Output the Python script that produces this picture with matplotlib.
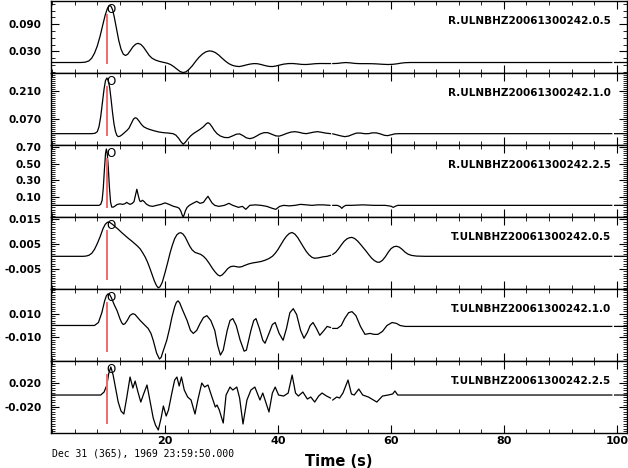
import matplotlib
matplotlib.use('Agg')
import matplotlib.pyplot as plt
from matplotlib.ticker import MultipleLocator, FixedLocator, NullFormatter

NAN = float('nan')

# ---------------- data (time s, amplitude) ----------------
names = ["R.ULNBHZ20061300242.0.5", "R.ULNBHZ20061300242.1.0", "R.ULNBHZ20061300242.2.5",
         "T.ULNBHZ20061300242.0.5", "T.ULNBHZ20061300242.1.0", "T.ULNBHZ20061300242.2.5"]

r05 = [(0, 0.0056), (5.0, 0.0056), (5.8, 0.0062), (6.5, 0.0090), (7.0, 0.0150), (7.5, 0.0260),
       (8.0, 0.0420), (8.5, 0.0640), (9.0, 0.0900), (9.4, 0.1100), (9.8, 0.1250), (10.1, 0.1310),
       (10.4, 0.1300), (10.7, 0.1220), (11.0, 0.1060), (11.4, 0.0800), (11.8, 0.0540), (12.2, 0.0350),
       (12.6, 0.0240), (13.0, 0.0210), (13.4, 0.0240), (13.8, 0.0310), (14.3, 0.0400), (14.8, 0.0460),
       (15.2, 0.0478), (15.7, 0.0455), (16.2, 0.0390), (16.7, 0.0300), (17.2, 0.0210), (17.7, 0.0150),
       (18.3, 0.0110), (19.0, 0.0080), (19.7, 0.0060), (20.4, 0.0040), (21.0, 0.0010), (21.6, -0.0040),
       (22.2, -0.0100), (22.7, -0.0145), (23.2, -0.0165), (23.7, -0.0150), (24.2, -0.0100), (24.8, -0.0020),
       (25.4, 0.0080), (26.0, 0.0170), (26.6, 0.0240), (27.2, 0.0290), (27.8, 0.0311), (28.3, 0.0305),
       (28.9, 0.0275), (29.5, 0.0220), (30.1, 0.0150), (30.7, 0.0085), (31.3, 0.0030), (31.9, -0.0005),
       (32.5, -0.0025), (33.1, -0.0033), (33.7, -0.0020), (34.3, 0.0000), (35.0, 0.0020), (35.7, 0.0032),
       (36.3, 0.0030), (37.0, 0.0012), (37.7, -0.0012), (38.4, -0.0030), (39.0, -0.0033), (39.6, -0.0022),
       (40.3, 0.0000), (41.0, 0.0020), (41.8, 0.0032), (42.6, 0.0034), (43.4, 0.0025), (44.2, 0.0014),
       (45.0, 0.0012), (45.8, 0.0020), (46.6, 0.0030), (47.5, 0.0034), (48.5, 0.0033), (49.3, 0.0033),
       (49.5, NAN), (49.7, 0.0033), (50.5, 0.0036), (51.3, 0.0048), (52.0, 0.0055), (52.8, 0.0048),
       (53.6, 0.0036), (54.5, 0.0031), (55.5, 0.0031), (56.5, 0.0030), (57.5, 0.0025), (58.5, 0.0017),
       (59.5, 0.0012), (60.3, 0.0016), (61.0, 0.0026), (61.8, 0.0042), (62.5, 0.0052), (63.5, 0.0056),
       (99.1, 0.0056), (99.35, NAN), (99.6, 0.0056), (101.8, 0.0056)]

r10 = [(0, -0.005), (7.0, -0.005), (7.6, -0.003), (8.0, 0.005), (8.3, 0.030), (8.6, 0.080), (8.9, 0.150),
       (9.2, 0.220), (9.45, 0.262), (9.7, 0.275), (9.95, 0.262), (10.2, 0.225), (10.45, 0.165), (10.7, 0.100),
       (10.95, 0.045), (11.2, 0.008), (11.45, -0.013), (11.7, -0.020), (12.0, -0.018), (12.4, -0.010),
       (12.8, 0.000), (13.2, 0.010), (13.6, 0.022), (14.0, 0.045), (14.4, 0.068), (14.7, 0.075),
       (15.0, 0.072), (15.4, 0.058), (15.8, 0.042), (16.2, 0.030), (16.8, 0.021), (17.4, 0.015),
       (18.0, 0.010), (18.8, 0.004), (19.7, 0.000), (20.6, -0.002), (21.4, -0.005), (21.9, -0.012),
       (22.4, -0.028), (22.8, -0.045), (23.2, -0.058), (23.6, -0.048), (24.0, -0.033), (24.5, -0.017),
       (25.0, -0.005), (25.6, 0.006), (26.2, 0.017), (26.8, 0.030), (27.3, 0.045), (27.6, 0.050),
       (27.9, 0.045), (28.3, 0.030), (28.7, 0.012), (29.2, -0.005), (29.8, -0.017), (30.5, -0.024),
       (31.2, -0.025), (31.9, -0.017), (32.6, -0.008), (33.2, -0.006), (33.8, -0.015), (34.4, -0.026),
       (35.0, -0.030), (35.6, -0.026), (36.2, -0.017), (36.8, -0.007), (37.5, 0.000), (38.2, 0.000),
       (38.9, -0.008), (39.6, -0.016), (40.2, -0.0175), (40.9, -0.011), (41.6, -0.003), (42.3, 0.003),
       (43.0, 0.005), (43.7, 0.002), (44.4, -0.003), (45.0, -0.005), (45.7, -0.001), (46.4, 0.003),
       (47.0, 0.005), (47.7, 0.002), (48.4, -0.002), (49.3, -0.005), (49.5, NAN), (49.7, -0.006),
       (50.4, -0.011), (51.1, -0.016), (51.8, -0.020), (52.5, -0.017), (53.2, -0.009), (53.9, -0.002),
       (54.6, -0.002), (55.3, -0.005), (56.0, -0.005), (56.7, -0.001), (57.4, -0.001), (58.1, -0.006),
       (58.8, -0.013), (59.4, -0.015), (60.0, -0.011), (60.7, -0.006), (61.5, -0.005), (99.1, -0.005),
       (99.35, NAN), (99.6, -0.005), (101.8, -0.005)]

r25 = [(0, 0), (8.3, 0), (8.6, 0.012), (8.85, 0.060), (9.05, 0.200), (9.25, 0.420), (9.45, 0.620),
       (9.6, 0.678), (9.75, 0.630), (9.95, 0.450), (10.15, 0.210), (10.35, 0.040), (10.55, -0.020),
       (10.8, -0.022), (11.1, -0.010), (11.5, 0.010), (12.0, 0.018), (12.5, 0.012), (12.9, 0.020),
       (13.2, 0.036), (13.5, 0.022), (13.8, 0.012), (14.2, 0.024), (14.5, 0.045), (14.75, 0.120),
       (15.0, 0.194), (15.25, 0.120), (15.5, 0.055), (15.7, 0.045), (16.0, 0.061), (16.3, 0.045),
       (16.7, 0.015), (17.2, -0.005), (17.8, -0.012), (18.5, 0), (19.3, 0.012), (20.0, 0.030),
       (20.7, 0.012), (21.5, -0.012), (22.1, -0.022), (22.5, -0.035), (22.8, -0.070), (23.0, -0.110),
       (23.2, -0.140), (23.4, -0.110), (23.6, -0.065), (23.9, -0.025), (24.3, 0.000), (24.8, 0.020),
       (25.6, 0.048), (26.2, 0.024), (26.8, 0.036), (27.2, 0.075), (27.6, 0.109), (27.9, 0.075),
       (28.3, 0.030), (28.8, 0), (29.5, -0.012), (30.5, 0), (31.3, 0.024), (32.0, 0), (33.0, -0.024),
       (33.7, -0.012), (34.3, -0.048), (35.0, 0), (36.0, 0.006), (37.0, 0), (38.0, -0.012),
       (39.0, -0.036), (39.6, -0.048), (40.3, -0.012), (41.0, 0), (42.0, -0.006), (43.0, 0), (44.0, 0.012),
       (45.0, 0.006), (46.0, 0), (47.0, 0.006), (48.0, 0.006), (49.2, 0), (49.45, NAN), (49.7, 0),
       (50.5, 0), (51.0, -0.015), (51.3, -0.036), (51.6, -0.015), (52.0, 0), (53.0, 0), (55.0, 0.006),
       (57.0, 0), (59.0, 0), (60.0, -0.010), (60.4, -0.024), (60.8, -0.010), (61.2, 0), (62.0, 0),
       (99.1, 0), (99.35, NAN), (99.6, 0), (101.8, 0)]

t05 = [(0, 0), (5.5, 0), (6.0, 0.0001), (6.5, 0.0004), (7.0, 0.0012), (7.5, 0.0028), (8.0, 0.0052),
       (8.5, 0.0080), (9.0, 0.0112), (9.4, 0.0130), (9.8, 0.0139), (10.2, 0.0138), (10.7, 0.0130),
       (11.2, 0.0120), (11.8, 0.0108), (12.3, 0.0097), (12.9, 0.0085), (13.5, 0.0073), (14.1, 0.0062),
       (14.6, 0.0052), (15.1, 0.0042), (15.6, 0.0030), (16.1, 0.0012), (16.5, -0.0004), (16.9, -0.0024),
       (17.3, -0.0048), (17.7, -0.0074), (18.1, -0.0100), (18.5, -0.0120), (18.8, -0.0128), (19.1, -0.0124),
       (19.5, -0.0106), (20.0, -0.0066), (20.5, -0.0022), (20.9, 0.0015), (21.3, 0.0046), (21.7, 0.0072),
       (22.1, 0.0088), (22.5, 0.0095), (22.8, 0.0096), (23.2, 0.0090), (23.6, 0.0077), (24.0, 0.0058),
       (24.4, 0.0040), (24.8, 0.0026), (25.3, 0.0016), (25.8, 0.0012), (26.3, 0.0008), (26.8, 0.0000),
       (27.3, -0.0012), (27.8, -0.0028), (28.3, -0.0046), (28.8, -0.0062), (29.3, -0.0075), (29.7, -0.0080),
       (30.1, -0.0076), (30.6, -0.0064), (31.1, -0.0050), (31.6, -0.0042), (32.1, -0.0040), (32.6, -0.0042),
       (33.1, -0.0044), (33.6, -0.0042), (34.1, -0.0037), (34.8, -0.0031), (35.5, -0.0027), (36.3, -0.0024),
       (37.0, -0.0021), (37.7, -0.0016), (38.4, -0.0009), (39.0, 0.0000), (39.5, 0.0012), (40.0, 0.0028),
       (40.5, 0.0047), (41.0, 0.0066), (41.5, 0.0082), (42.0, 0.0093), (42.5, 0.0097), (43.0, 0.0090),
       (43.5, 0.0076), (44.0, 0.0057), (44.5, 0.0038), (45.0, 0.0020), (45.5, 0.0006), (46.0, -0.0004),
       (46.5, -0.0008), (47.2, -0.0006), (48.0, -0.0002), (48.7, 0.0000), (49.3, 0.0004), (49.5, NAN),
       (49.7, 0.0008), (50.2, 0.0016), (50.7, 0.0030), (51.2, 0.0046), (51.7, 0.0061), (52.2, 0.0071),
       (52.7, 0.0076), (53.1, 0.0077), (53.6, 0.0072), (54.1, 0.0062), (54.6, 0.0049), (55.1, 0.0035),
       (55.6, 0.0021), (56.1, 0.0006), (56.6, -0.0008), (57.1, -0.0018), (57.6, -0.0024), (58.0, -0.0024),
       (58.5, -0.0016), (59.0, -0.0002), (59.5, 0.0016), (60.0, 0.0031), (60.5, 0.0039), (61.0, 0.0041),
       (61.5, 0.0037), (62.0, 0.0028), (62.5, 0.0017), (63.0, 0.0009), (63.6, 0.0004), (64.5, 0.0001),
       (66.0, 0), (99.1, 0), (99.35, NAN), (99.6, 0), (101.8, 0)]

t10 = [(0, 0), (7.5, 0), (8.2, 0.0025), (8.8, 0.0108), (9.3, 0.0208), (9.6, 0.0250), (9.9, 0.0267),
       (10.2, 0.0260), (10.5, 0.0233), (11.0, 0.0175), (11.5, 0.0125), (12.0, 0.0058), (12.3, 0.0025),
       (12.6, 0.0008), (12.9, 0.0015), (13.3, 0.0042), (13.8, 0.0085), (14.3, 0.0100), (14.7, 0.0092),
       (15.0, 0.0075), (15.6, 0.0042), (16.3, 0.0008), (17.0, -0.0025), (17.5, -0.0067), (17.9, -0.0125),
       (18.5, -0.0233), (19.0, -0.0283), (19.3, -0.0270), (19.6, -0.0225), (20.3, -0.0125), (20.8, -0.0025),
       (21.2, 0.0067), (21.7, 0.0158), (22.0, 0.0195), (22.3, 0.0208), (22.6, 0.0190), (23.0, 0.0142),
       (23.9, 0.0042), (24.5, -0.0042), (25.0, -0.0067), (25.6, -0.0042), (26.2, 0.0017), (26.8, 0.0067),
       (27.4, 0.0083), (28.1, 0.0042), (28.8, -0.0042), (29.3, -0.0167), (29.8, -0.0250), (30.3, -0.0208),
       (31.0, -0.0042), (31.5, 0.0042), (32.0, 0.0058), (32.6, 0), (33.3, -0.0125), (34.0, -0.0217),
       (34.4, -0.0208), (35.2, -0.0042), (35.7, 0.0042), (36.1, 0.0058), (36.7, -0.0025), (37.3, -0.0125),
       (37.7, -0.0150), (38.4, -0.0067), (39.0, 0.0008), (39.5, 0.0025), (40.2, -0.0067), (40.9, -0.0125),
       (41.5, -0.0025), (42.1, 0.0108), (42.7, 0.0142), (43.3, 0.0092), (44.0, -0.0042), (44.6, -0.0108),
       (45.2, -0.0058), (45.7, 0), (46.2, 0.0025), (46.8, -0.0025), (47.4, -0.0083), (48.0, -0.0050),
       (48.7, -0.0008), (49.3, -0.0017), (49.5, NAN), (49.7, -0.0025), (50.5, -0.0025), (51.2, 0),
       (51.8, 0.0058), (52.5, 0.0108), (53.1, 0.0117), (53.8, 0.0083), (54.6, -0.0008), (55.4, -0.0075),
       (56.3, -0.0067), (57.0, -0.0075), (57.7, -0.0075), (58.5, -0.0050), (59.3, 0), (60.2, 0.0025),
       (61.0, 0.0017), (61.6, 0), (62.5, -0.0008), (99.1, -0.0008), (99.35, NAN), (99.6, -0.0008),
       (101.8, -0.0008)]

t25 = [(0, 0), (8.6, 0), (9.2, 0.0050), (9.7, 0.0167), (10.0, 0.0350), (10.4, 0.0467), (10.8, 0.0333),
       (11.2, 0.0133), (11.7, -0.0117), (12.2, -0.0267), (12.7, -0.0317), (13.2, -0.0050), (13.8, 0.0300),
       (14.3, 0.0117), (14.7, 0.0233), (15.2, 0.0050), (15.7, -0.0117), (16.2, 0.0017), (16.8, 0.0167),
       (17.3, -0.0083), (17.9, -0.0383), (18.3, -0.0500), (18.8, -0.0583), (19.3, -0.0383), (19.7, -0.0183),
       (20.2, -0.0350), (20.6, -0.0250), (21.2, 0.0033), (21.7, 0.0250), (22.1, 0.0300), (22.5, 0.0150),
       (22.9, 0.0300), (23.4, 0.0083), (24.0, -0.0033), (24.6, -0.0083), (25.3, -0.0317), (25.8, -0.0083),
       (26.5, 0.0200), (27.0, 0.0133), (27.6, 0.0167), (28.3, -0.0033), (28.9, -0.0200), (29.2, -0.0167),
       (29.6, -0.0250), (30.3, -0.0467), (30.8, 0), (31.5, 0.0133), (32.0, 0.0083), (32.7, 0.0133),
       (33.2, -0.0050), (33.8, -0.0483), (34.5, -0.0083), (35.2, 0.0083), (35.9, 0.0133), (36.8, -0.0083),
       (37.3, 0.0033), (38.4, -0.0283), (39.0, 0.0033), (39.5, 0.0133), (40.1, 0), (41.0, -0.0017),
       (41.8, 0.0033), (42.5, 0.0333), (43.1, 0.0033), (43.6, -0.0017), (44.4, 0.0050), (45.2, -0.0067),
       (45.8, -0.0033), (46.5, -0.0117), (47.2, -0.0017), (47.8, 0.0033), (48.6, -0.0017), (49.3, -0.0050),
       (49.5, NAN), (49.7, -0.0083), (50.4, -0.0033), (50.9, -0.0050), (51.5, 0.0033), (52.4, 0.0250),
       (53.0, 0.0017), (53.5, 0), (54.3, 0.0100), (55.0, 0), (56.0, -0.0033), (57.5, -0.0117),
       (58.5, -0.0017), (59.5, 0), (60.3, 0.0017), (60.7, 0.0067), (61.2, 0), (99.1, 0), (99.35, NAN),
       (99.6, 0), (101.8, 0)]

traces = [r05, r10, r25, t05, t10, t25]
pick_time = 9.7
pick_label = "O"

ylims = [(-0.0175, 0.141), (-0.062, 0.300), (-0.140, 0.726),
         (-0.0133, 0.0160), (-0.0300, 0.0308), (-0.0633, 0.0567)]
ytick_vals = [[0.030, 0.090], [0.070, 0.210], [0.10, 0.30, 0.50, 0.70],
              [-0.005, 0.005, 0.015], [-0.010, 0.010], [-0.020, 0.020]]
ytick_labels = [["0.030", "0.090"], ["0.070", "0.210"], ["0.10", "0.30", "0.50", "0.70"],
                ["-0.005", "0.005", "0.015"], ["-0.010", "0.010"], ["-0.020", "0.020"]]
yminor_step = [0.015, 0.01, 0.025, 0.001, 0.002, 0.004]
xtick_vals = [20, 40, 60, 80, 100]
xtick_labels = ["20", "40", "60", "80", "100"]
date_text = "Dec 31 (365), 1969 23:59:50.000"
xlabel = "Time (s)"

# ---------------- figure ----------------
W, H = 628, 468
fig = plt.figure(figsize=(W / 100, H / 100), dpi=100)
left_px, right_px, top_px, panel_h = 51, 627, 1, 72

for i in range(6):
    top = top_px + panel_h * i
    ax = fig.add_axes([left_px / W, 1 - (top + panel_h) / H, (right_px - left_px) / W, panel_h / H])
    t, v = zip(*traces[i])
    ax.plot(t, v, color='black', lw=0.9, solid_joinstyle='round')
    ax.set_xlim(-0.2, 101.8)
    ax.set_ylim(*ylims[i])
    ax.axvline(pick_time, ymin=0.14, ymax=0.80, color='#f06a6a', lw=1.4)
    ax.text(pick_time + 0.75, 0.885, pick_label, transform=ax.get_xaxis_transform(),
            ha='center', va='center', fontsize=8.5, color='black')
    ax.text(0.972, 0.72, names[i], transform=ax.transAxes, ha='right', va='center',
            fontsize=7.5, fontweight='bold', family='DejaVu Sans')
    ax.yaxis.set_major_locator(FixedLocator(ytick_vals[i]))
    ax.set_yticklabels(ytick_labels[i], fontsize=7.5, fontweight='bold')
    ax.yaxis.set_minor_locator(MultipleLocator(yminor_step[i]))
    ax.xaxis.set_major_locator(FixedLocator(xtick_vals))
    ax.xaxis.set_minor_locator(MultipleLocator(4))
    ax.tick_params(axis='both', which='both', direction='in', top=True, right=True)
    ax.tick_params(axis='both', which='major', length=6, width=0.8)
    ax.tick_params(axis='both', which='minor', length=3, width=0.6)
    ax.tick_params(axis='y', which='major', pad=7)
    for s in ax.spines.values():
        s.set_linewidth(1.0)
    if i < 5:
        ax.xaxis.set_major_formatter(NullFormatter())
    else:
        ax.set_xticklabels(xtick_labels, fontsize=8, fontweight='bold')
        ax.tick_params(axis='x', which='major', pad=2)

fig.text(52 / W, 1 - 453 / H, date_text, ha='left', va='center', fontsize=7, family='DejaVu Sans Mono')
fig.text((left_px + right_px) / 2 / W, 1 - 461 / H, xlabel, ha='center', va='center',
         fontsize=10.5, fontweight='bold')

fig.savefig('out.png', dpi=100)
